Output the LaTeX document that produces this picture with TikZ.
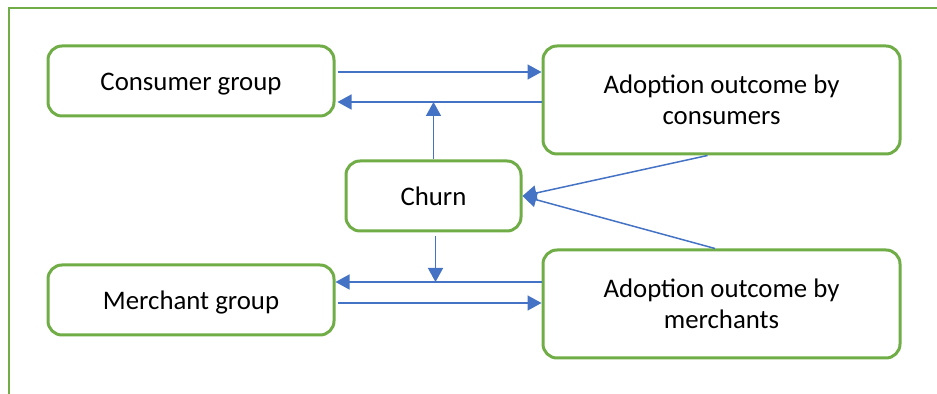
\documentclass[tikz,border=0pt]{standalone}
\usepackage{fontspec}
\setmainfont{Carlito}
\usetikzlibrary{arrows.meta,calc}
\definecolor{verde}{RGB}{112,173,71}
\definecolor{blu}{RGB}{68,114,196}
\tikzset{
  riquadro/.style={draw=verde, line width=1.5pt, rounded corners=7pt, align=center, inner sep=0pt, font=\fontsize{13.4}{15.5}\selectfont},
  unariga/.style={riquadro, text height=12.4pt, text depth=2.6pt},
  freccia/.style={blu, line width=0.75pt, -{Triangle[length=7pt,width=7.5pt]}},
}
\begin{document}
\begin{tikzpicture}[x=0.5pt,y=-0.5pt]
        \useasboundingbox (0,0) rectangle (937,394);
        %disegno cornice
        \draw[verde,line width=1.3pt](937,8)--(9,8)--(9,394);
        %disegno riquadri
        \node[unariga,minimum width=143pt,minimum height=35pt] (cons) at (191,81) {Consumer group};
        \node[riquadro,minimum width=178.5pt,minimum height=54pt] (adc) at (721.5,100) {Adoption outcome by\\consumers};
        \node[unariga,minimum width=87.5pt,minimum height=35pt] (churn) at (433.5,196) {Churn};
        \node[unariga,minimum width=143pt,minimum height=35pt] (merch) at (191,300) {Merchant group};
        \node[riquadro,minimum width=178.5pt,minimum height=54pt] (adm) at (721.5,304) {Adoption outcome by\\merchants};
        %quote delle frecce orizzontali
        \coordinate (y1) at (0,72);
        \coordinate (y2) at (0,102);
        \coordinate (y3) at (0,282);
        \coordinate (y4) at (0,303);
        %disegno frecce consumer
        \draw[freccia,shorten <=1pt](cons.east|-y1)--(adc.west|-y1);
        \draw[freccia,shorten >=1pt](adc.west|-y2)--(cons.east|-y2);
        %disegno frecce merchant
        \draw[freccia](adm.west|-y3)--(merch.east|-y3);
        \draw[freccia,shorten <=1pt](merch.east|-y4)--(adm.west|-y4);
        %disegno frecce churn
        \draw[freccia](churn.north)--(churn.north|-y2);
        \draw[freccia,shorten <=2pt]([xshift=1pt]churn.south)--([xshift=1pt]churn.south|-y3);
        \draw[freccia]($(adc.south)+(-14,0)$)--(churn.east);
        \draw[freccia]($(adm.north)+(-6.5,0)$)--(churn.east);
    \end{tikzpicture}
\end{document}
